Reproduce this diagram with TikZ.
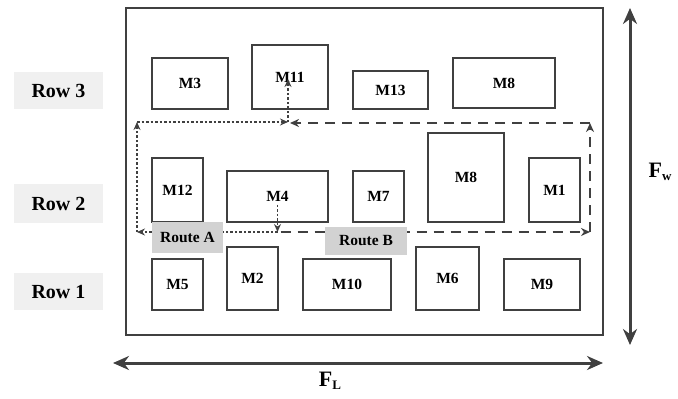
\documentclass[tikz,border=0pt]{standalone}
\usepackage{fontspec}
\setmainfont{Liberation Serif}
\usetikzlibrary{arrows.meta}
\definecolor{khung}{HTML}{404040}
\definecolor{nenhang}{HTML}{F0F0F0}
\definecolor{nentuyen}{HTML}{D2D2D2}
\begin{document}
\begin{tikzpicture}[x=1pt,y=-1pt,
    may/.style={draw=khung,line width=2pt,inner sep=0pt,font=\fontsize{15.5}{18}\selectfont\bfseries},
    hang/.style={fill=nenhang,minimum width=89pt,minimum height=37pt,inner sep=0pt,font=\fontsize{20}{24}\selectfont\bfseries},
    tuyen/.style={fill=nentuyen,inner sep=0pt,font=\fontsize{15.5}{18}\selectfont\bfseries},
    duongA/.style={khung,line width=1.6pt,dash pattern=on 2.5pt off 2pt,-{Stealth[length=8pt,width=7pt]}},
    duongB/.style={khung,line width=2pt,dash pattern=on 10pt off 7pt,-{Stealth[length=9pt,width=8pt]}},
    kichthuoc/.style={khung,line width=3pt,{Stealth[length=16pt,width=14pt]}-{Stealth[length=16pt,width=14pt]}},
    nhanF/.style={inner sep=0pt,font=\fontsize{22}{26}\selectfont\bfseries}]
    \useasboundingbox (0,0) rectangle (678,399);
    % Khung nhà xưởng
    \node[draw=khung,line width=2pt,minimum width=477pt,minimum height=327pt] (xuong) at (364.5,171.5) {};
    
    % Nhãn các hàng
    \node[hang] (hang3) at (58.5,90.5) {Row 3};
    \node[hang,minimum height=39pt] (hang2) at (58.5,203.5) {Row 2};
    \node[hang] (hang1) at (58.5,291.5) {Row 1};
    
    % Các máy
    \foreach \ten/\nhan/\cx/\cy/\w/\h in {m3/M3/190/83.5/76/51, m11/M11/290/77/76/64, m13/M13/390.5/90/75/38,
        m8a/M8/504/83/102/50, m12/M12/177.5/190/51/64, m4/M4/277.5/196.5/101/51, m7/M7/378.5/196.5/51/51,
        m8b/M8/466/177.5/76/89, m1/M1/554.5/190/51/64, m5/M5/177.5/284.5/51/51, m2/M2/252.5/278.5/51/63,
        m10/M10/347/284.5/88/51, m6/M6/447.5/278.5/63/63, m9/M9/542/284.5/76/51}
    \node[may,minimum width=\w pt,minimum height=\h pt] (\ten) at (\cx,\cy) {\nhan};
    
    % Tuyến A
    \coordinate (a1) at (277.5,232);
    \coordinate (a2) at (137,232);
    \coordinate (a3) at (137,122);
    \coordinate (a4) at (288,122);
    \draw[duongA] ([yshift=-8pt]m4.center) -- (a1);
    \draw[duongA] (a1) -- (a2);
    \draw[duongA] (a2) -- (a3);
    \draw[duongA] (a3) -- (a4);
    \draw[duongA] (a4) -- ([xshift=-2pt,yshift=-2pt]m11.center);
    
    % Tuyến B
    \coordinate (b2) at (590,232);
    \coordinate (b3) at (590,123);
    \coordinate (b4) at (290,123);
    \draw[duongB] ([xshift=3pt]a1) -- (b2);
    \draw[duongB] (b2) -- (b3);
    \draw[duongB] (b3) -- (b4);
    
    \node[tuyen,minimum width=71pt,minimum height=31pt] (tuyenA) at (187.5,237.5) {Route A};
    \node[tuyen,minimum width=82pt,minimum height=28pt] (tuyenB) at (366,241) {Route B};
    
    % Kích thước F_L và F_w
    \coordinate (L1) at (113,363);
    \coordinate (L2) at (603,363);
    \draw[kichthuoc] (L1) -- (L2);
    \node[nhanF] (FL) at (330,381) {F\raisebox{-0.35ex}{\fontsize{13}{13}\selectfont L}};
    \coordinate (W1) at (630,8);
    \coordinate (W2) at (630,345);
    \draw[kichthuoc] (W1) -- (W2);
    \node[nhanF] (FW) at (660,172) {F\raisebox{-0.35ex}{\fontsize{13}{13}\selectfont w}};
\end{tikzpicture}
\end{document}
